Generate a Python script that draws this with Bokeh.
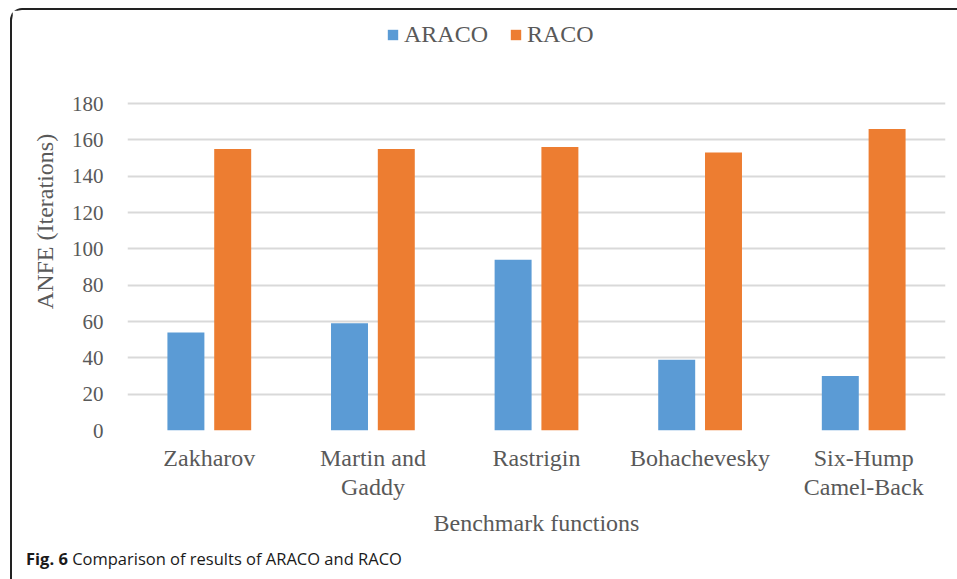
from bokeh.plotting import figure
from bokeh.layouts import column
from bokeh.models import (Range1d, Legend, LegendItem, Div, LinearAxis,
                          FixedTicker, ColumnDataSource)
from bokeh.transform import dodge
from bokeh.embed import file_html
from bokeh.resources import INLINE

# Average number of function evaluations per benchmark function
functions = ["Zakharov", "Martin and Gaddy", "Rastrigin", "Bohachevesky",
             "Six-Hump Camel-Back"]
label_line1 = ["Zakharov", "Martin and", "Rastrigin", "Bohachevesky", "Six-Hump"]
label_line2 = ["", "Gaddy", "", "", "Camel-Back"]
araco = [54, 59, 94, 39, 30]
raco = [155, 155, 156, 153, 166]
y_ticks = [0, 20, 40, 60, 80, 100, 120, 140, 160, 180]

BLUE = "#5B9BD5"
ORANGE = "#ED7D31"
TEXT = "#595959"
SERIF = "Liberation Serif"

# one slot per function, centred on i + 0.5
centers = [i + 0.5 for i in range(len(functions))]

# the value axis spans 180 units over 327 px; headroom above holds the legend
PX_PER_UNIT = 327 / 180
y_top = 180 + (103 - 12) / PX_PER_UNIT

src = ColumnDataSource(dict(x=centers, araco=araco, raco=raco))

p = figure(width=945, height=540, x_range=Range1d(0, len(functions)),
           y_range=Range1d(0, y_top), output_backend="svg",
           toolbar_location=None, min_border_left=115, min_border_right=12,
           min_border_top=2, min_border_bottom=120)
p.outline_line_color = None
p.background_fill_color = "white"
p.border_fill_color = "white"

r1 = p.vbar(x=dodge("x", -0.143), top="araco", width=0.226, source=src,
            fill_color=BLUE, line_color=None)
r2 = p.vbar(x=dodge("x", 0.143), top="raco", width=0.226, source=src,
            fill_color=ORANGE, line_color=None)

# grid
p.xgrid.grid_line_color = None
p.ygrid.grid_line_color = "#D9D9D9"
p.ygrid.grid_line_width = 2
p.ygrid.ticker = y_ticks

# y axis
ya = p.yaxis[0]
ya.ticker = y_ticks
ya.axis_line_color = None
ya.major_tick_line_color = None
ya.minor_tick_line_color = None
ya.major_tick_in = 0
ya.major_tick_out = 0
ya.major_label_standoff = 24
ya.major_label_text_font = SERIF
ya.major_label_text_font_size = "21px"
ya.major_label_text_color = TEXT
ya.axis_label = "ANFE (Iterations)"
ya.axis_label_text_font = SERIF
ya.axis_label_text_font_size = "24px"
ya.axis_label_text_font_style = "normal"
ya.axis_label_text_color = TEXT
ya.axis_label_standoff = 11


def style_x(ax, lines, standoff):
    ax.ticker = FixedTicker(ticks=centers)
    ax.axis_line_color = None
    ax.major_tick_line_color = None
    ax.minor_tick_line_color = None
    ax.major_tick_in = 0
    ax.major_tick_out = 0
    ax.major_label_overrides = {c: t for c, t in zip(centers, lines)}
    ax.major_label_standoff = standoff
    ax.major_label_text_font = SERIF
    ax.major_label_text_font_size = "24px"
    ax.major_label_text_color = TEXT


# function names, first line
xa = p.xaxis[0]
style_x(xa, label_line1, 14)

# function names, second line, with the axis title
xb = LinearAxis()
style_x(xb, label_line2, 0)
xb.axis_label = "Benchmark functions"
xb.axis_label_text_font = SERIF
xb.axis_label_text_font_size = "24px"
xb.axis_label_text_font_style = "normal"
xb.axis_label_text_color = TEXT
xb.axis_label_standoff = 7
p.add_layout(xb, "below")

# legend at the top of the chart
legend = Legend(items=[LegendItem(label="ARACO", renderers=[r1]),
                       LegendItem(label="RACO", renderers=[r2])],
                orientation="horizontal", location=(259, 382),
                label_text_font=SERIF, label_text_font_size="24px",
                label_text_color=TEXT, glyph_width=13, glyph_height=13,
                label_standoff=5, spacing=21, border_line_color=None,
                background_fill_alpha=0, padding=0, margin=0)
p.add_layout(legend, "center")

caption = Div(text="<b>Fig. 6</b> Comparison of results of ARACO and RACO",
              width=945, height=29,
              styles={"font-family": "'Open Sans', sans-serif",
                      "font-size": "16.5px", "line-height": "8px",
                      "color": "#1a1a1a", "padding-left": "9px",
                      "box-sizing": "border-box"})

layout = column(p, caption, margin=(8, 0, 0, 10), spacing=0,
                styles={"border-left": "2px solid #222222",
                        "border-top": "2px solid #222222",
                        "border-top-left-radius": "12px",
                        "background-color": "white"})

open("out.html", "w").write(file_html(layout, INLINE))
